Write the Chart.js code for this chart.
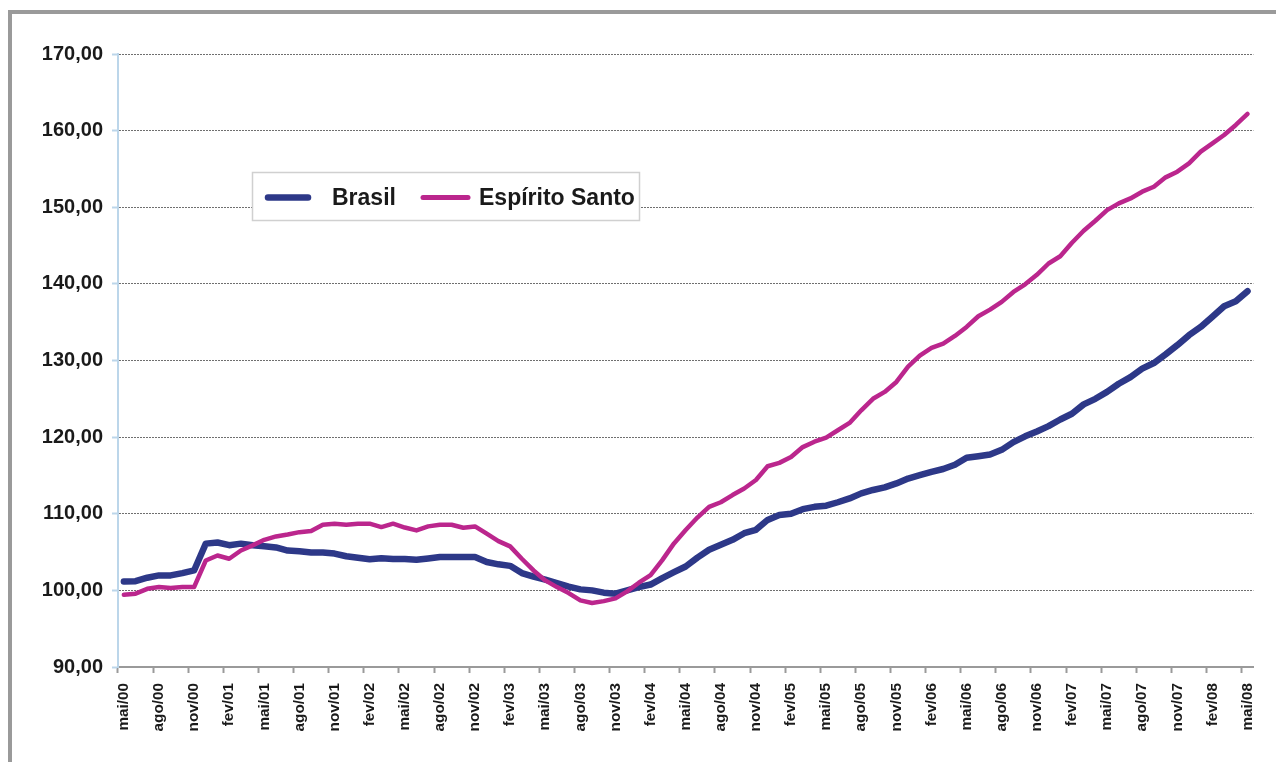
<!DOCTYPE html>
<html>
<head>
<meta charset="utf-8">
<script src="https://cdn.jsdelivr.net/npm/chart.js@4/dist/chart.umd.min.js"></script>
<style>
html,body{margin:0;padding:0;background:#fff;width:1276px;height:762px;overflow:hidden;}
#frame{position:absolute;left:8px;top:10px;width:1300px;height:800px;border-top:4px solid #9a9a9a;border-left:4px solid #9a9a9a;box-sizing:border-box;}
#wrap{position:absolute;left:0;top:0;width:1276px;height:762px;}
</style>
</head>
<body>
<div id="frame"></div>
<div id="wrap"><canvas id="c" width="1276" height="762"></canvas></div>
<script>
const categories = [
 'mai/00','jun/00','jul/00','ago/00','set/00','out/00','nov/00','dez/00',
 'jan/01','fev/01','mar/01','abr/01','mai/01','jun/01','jul/01','ago/01','set/01','out/01','nov/01','dez/01',
 'jan/02','fev/02','mar/02','abr/02','mai/02','jun/02','jul/02','ago/02','set/02','out/02','nov/02','dez/02',
 'jan/03','fev/03','mar/03','abr/03','mai/03','jun/03','jul/03','ago/03','set/03','out/03','nov/03','dez/03',
 'jan/04','fev/04','mar/04','abr/04','mai/04','jun/04','jul/04','ago/04','set/04','out/04','nov/04','dez/04',
 'jan/05','fev/05','mar/05','abr/05','mai/05','jun/05','jul/05','ago/05','set/05','out/05','nov/05','dez/05',
 'jan/06','fev/06','mar/06','abr/06','mai/06','jun/06','jul/06','ago/06','set/06','out/06','nov/06','dez/06',
 'jan/07','fev/07','mar/07','abr/07','mai/07','jun/07','jul/07','ago/07','set/07','out/07','nov/07','dez/07',
 'jan/08','fev/08','mar/08','abr/08','mai/08'
];

const brasil = [
 101.17,101.20,101.65,101.95,101.95,102.25,102.60,106.10,106.25,105.90,
 106.10,105.90,105.75,105.60,105.20,105.10,104.95,104.95,104.80,104.45,
 104.25,104.05,104.20,104.10,104.10,104.00,104.17,104.35,104.35,104.35,
 104.35,103.70,103.40,103.20,102.26,101.80,101.40,100.96,100.50,100.13,
 100.00,99.70,99.57,100.00,100.43,100.76,101.60,102.37,103.12,104.28,
 105.30,105.94,106.60,107.46,107.90,109.20,109.84,110.00,110.60,110.90,
 111.05,111.50,112.00,112.66,113.10,113.44,113.96,114.60,115.04,115.47,
 115.84,116.40,117.30,117.50,117.73,118.34,119.35,120.10,120.74,121.44,
 122.30,123.05,124.27,125.00,125.90,126.97,127.84,128.93,129.67,130.80,
 132.00,133.30,134.38,135.70,137.08,137.73,139.04
];

const espiritoSanto = [
 99.43,99.57,100.20,100.43,100.30,100.43,100.43,103.90,104.55,104.13,
 105.20,105.87,106.60,107.04,107.30,107.60,107.74,108.57,108.70,108.57,
 108.70,108.70,108.26,108.70,108.20,107.83,108.35,108.57,108.57,108.17,
 108.35,107.40,106.43,105.74,104.13,102.60,101.30,100.43,99.65,98.70,
 98.35,98.60,98.96,99.87,101.00,102.00,103.95,106.13,107.87,109.50,
 110.90,111.50,112.44,113.30,114.40,116.20,116.64,117.40,118.70,119.40,
 119.94,120.90,121.85,123.50,125.00,125.90,127.20,129.20,130.65,131.64,
 132.20,133.20,134.38,135.77,136.64,137.65,138.95,139.95,141.18,142.66,
 143.60,145.36,146.93,148.24,149.63,150.50,151.15,152.03,152.68,153.90,
 154.64,155.73,157.25,158.34,159.43,160.74,162.18
];

const seriesNames = ['Brasil', 'Espírito Santo'];
const yTicks = [90, 100, 110, 120, 130, 140, 150, 160, 170];

const FONT = "'Liberation Sans', Arial, Helvetica, sans-serif";
const BLUE = '#2d3888';
const MAGENTA = '#bb268d';

const legendBox = {
  id: 'legendBox',
  afterDraw(chart) {
    const ctx = chart.ctx;
    ctx.save();
    ctx.fillStyle = '#ffffff';
    ctx.fillRect(252, 172, 388, 49);
    ctx.strokeStyle = '#d0d0d0';
    ctx.lineWidth = 1.5;
    ctx.strokeRect(252.5, 172.5, 387, 48);
    const entries = [
      {x1: 268, x2: 308, tx: 332, w: 6.5},
      {x1: 423, x2: 468, tx: 479, w: 5}
    ];
    chart.data.datasets.forEach((ds, i) => {
      const e = entries[i];
      ctx.strokeStyle = ds.borderColor;
      ctx.lineWidth = e.w;
      ctx.lineCap = 'round';
      ctx.beginPath();
      ctx.moveTo(e.x1, 197.5);
      ctx.lineTo(e.x2, 197.5);
      ctx.stroke();
      ctx.fillStyle = '#1a1a1a';
      ctx.font = 'bold 23px ' + FONT;
      ctx.textBaseline = 'alphabetic';
      ctx.textAlign = 'left';
      ctx.fillText(ds.label, e.tx, 205);
    });
    ctx.restore();
  }
};

new Chart(document.getElementById('c'), {
  type: 'line',
  data: {
    labels: categories,
    datasets: [
      {label: seriesNames[0], data: brasil, borderColor: BLUE, backgroundColor: BLUE, borderWidth: 6.5, order: 1},
      {label: seriesNames[1], data: espiritoSanto, borderColor: MAGENTA, backgroundColor: MAGENTA, borderWidth: 4.5, order: 0}
    ]
  },
  options: {
    responsive: false,
    animation: false,
    layout: {padding: {top: 54, right: 22, left: 0, bottom: 0}},
    elements: {
      point: {radius: 0, hoverRadius: 0},
      line: {tension: 0, borderCapStyle: 'round', borderJoinStyle: 'round'}
    },
    plugins: {legend: {display: false}, tooltip: {enabled: false}},
    scales: {
      x: {
        type: 'category',
        offset: true,
        afterFit: (s) => { s.height = 95; },
        grid: {
          display: true,
          offset: true,
          drawOnChartArea: false,
          drawTicks: true,
          tickLength: 6,
          tickWidth: 2,
          tickColor: (c) => (c.index % 3 === 0 ? '#9a9a9a' : 'rgba(0,0,0,0)')
        },
        border: {display: true, color: '#9a9a9a', width: 2},
        ticks: {
          autoSkip: false,
          maxRotation: 90,
          minRotation: 90,
          padding: 10,
          color: '#1a1a1a',
          font: {family: FONT, size: 15.3, weight: 'bold'},
          callback: function (v, i) { return i % 3 === 0 ? this.getLabelForValue(v) : ''; }
        }
      },
      y: {
        min: yTicks[0],
        max: yTicks[yTicks.length - 1],
        afterFit: (s) => { s.width = 118; },
        afterBuildTicks: (s) => { s.ticks = yTicks.map(v => ({value: v})); },
        grid: {
          display: true,
          drawOnChartArea: true,
          drawTicks: true,
          tickLength: 6,
          tickWidth: 2,
          tickColor: '#bcd6ea',
          lineWidth: 1,
          color: (c) => (c.tick && c.tick.value === yTicks[0] ? 'rgba(0,0,0,0)' : '#6f6f6f')
        },
        border: {display: true, color: '#bcd6ea', width: 2, dash: [2, 1]},
        ticks: {
          padding: 9,
          color: '#1a1a1a',
          font: {family: FONT, size: 20, weight: 'bold'},
          callback: (v) => Number(v).toFixed(2).replace('.', ',')
        }
      }
    }
  },
  plugins: [legendBox]
});
</script>
</body>
</html>
